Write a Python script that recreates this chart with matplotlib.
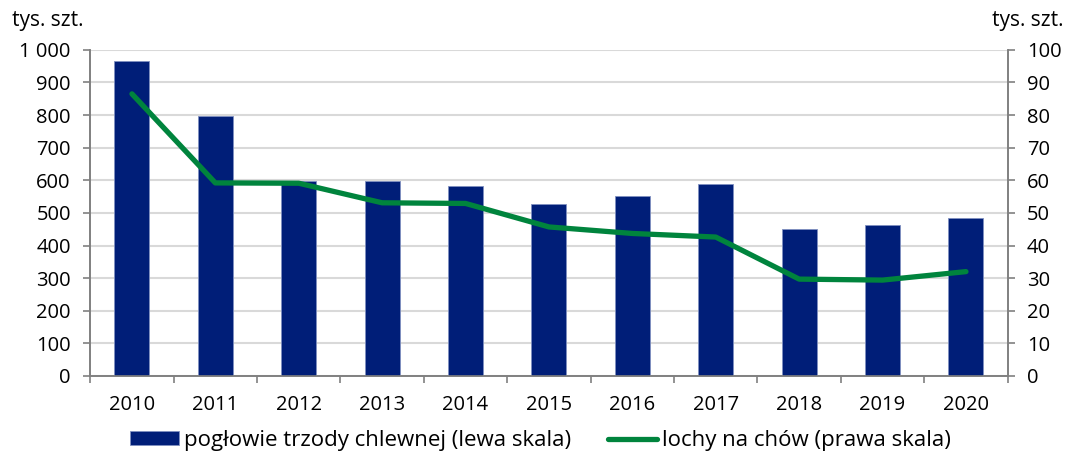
import matplotlib
matplotlib.use('Agg')

import matplotlib.pyplot as plt
import numpy as np
from matplotlib.ticker import FuncFormatter, MultipleLocator
from matplotlib.patches import Patch
from matplotlib.lines import Line2D

plt.rcParams['font.family'] = ['Open Sans', 'DejaVu Sans']

years = ['2010', '2011', '2012', '2013', '2014', '2015', '2016', '2017', '2018', '2019', '2020']
pigs = [967, 796, 598, 599, 582, 526, 551, 590, 450, 462, 483]      # left scale
sows = [86.5, 59.2, 59.1, 53.1, 52.9, 45.7, 43.7, 42.6, 29.7, 29.4, 32.0]  # right scale

navy = '#001E78'
green = '#00843D'
spine_col = '#808080'

fig = plt.figure(figsize=(10.68, 4.53), dpi=100)
ax = fig.add_axes([0.0845, 0.170, 0.859, 0.720])
ax2 = ax.twinx()

x = np.arange(len(years))
ax.bar(x, pigs, width=0.42, color=navy, edgecolor='#8090c0', linewidth=0.6, zorder=3)
ax2.plot(x, sows, color=green, linewidth=3.8, solid_capstyle='round', zorder=4)

# axes limits / ticks
ax.set_xlim(-0.5, len(years) - 0.5)
ax.set_ylim(0, 1000)
ax2.set_ylim(0, 100)
ax.yaxis.set_major_locator(MultipleLocator(100))
ax2.yaxis.set_major_locator(MultipleLocator(10))
ax.yaxis.set_major_formatter(FuncFormatter(lambda v, p: f"{int(v):,}".replace(',', ' ')))

ax.set_xticks(x)
ax.set_xticklabels(years)
ax.set_xticks(np.arange(-0.5, len(years)), minor=True)
ax.tick_params(axis='x', which='major', length=0, pad=14, labelsize=14.5)
ax.tick_params(axis='x', which='minor', length=5, width=1.2, color=spine_col)
ax.tick_params(axis='y', length=5, width=1.2, color=spine_col, labelsize=14.5, pad=9)
ax2.tick_params(axis='y', length=5, width=1.2, color=spine_col, labelsize=14.5, pad=9)

ax.grid(True, axis='y', color='#d9d9d9', linewidth=1.5, zorder=0)
ax.set_axisbelow(True)

for a in (ax, ax2):
    a.spines['top'].set_visible(False)
    for s in ('left', 'right', 'bottom'):
        a.spines[s].set_color(spine_col)
        a.spines[s].set_linewidth(1.2)

fig.text(0.011, 0.932, 'tys. szt.', fontsize=15, ha='left', va='bottom')
fig.text(0.996, 0.932, 'tys. szt.', fontsize=15, ha='right', va='bottom')

handles = [Patch(facecolor=navy, edgecolor='#8090c0', linewidth=0.6),
           Line2D([0], [0], color=green, linewidth=3.8, solid_capstyle='round')]
labels = ['pogłowie trzody chlewnej (lewa skala)', 'lochy na chów (prawa skala)']
fig.legend(handles, labels, loc='lower center', bbox_to_anchor=(0.506, -0.04), ncol=2,
           frameon=False, fontsize=16, handlelength=2.2, handletextpad=0.2,
           columnspacing=1.7, handleheight=0.6)

fig.savefig('out.png', dpi=100)
